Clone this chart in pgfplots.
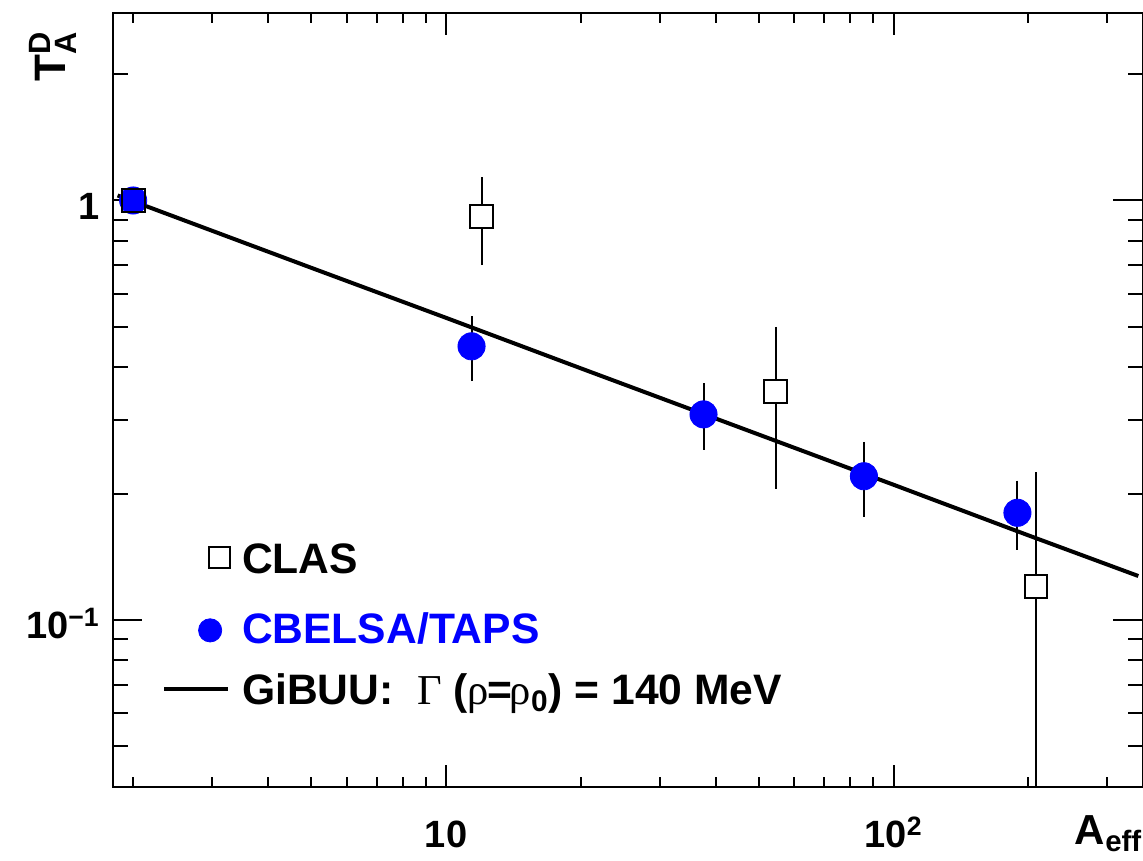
\documentclass[border=0pt]{standalone}
\usepackage{fontspec}
\setmainfont{Liberation Sans}
\newfontfamily\greekfont{Liberation Serif}
\usepackage{pgfplots}
\pgfplotsset{compat=1.18}
\definecolor{rootblue}{RGB}{0,0,255}
\pgfplotsset{
  legsquare/.style={legend image code/.code={\draw[##1] plot coordinates {(27.45pt,0.55pt)}; \path (0pt,-11.35pt);}},
  legcircle/.style={legend image code/.code={\draw[##1] plot coordinates {(23pt,-1.3pt)};}},
  legline/.style={legend image code/.code={\draw[##1] (0pt,0.35pt) -- (32.15pt,0.35pt);}},
}

\begin{document}
\begin{tikzpicture}
\begin{axis}[
  name=ax, at={(0,0)}, anchor=south west,
  scale only axis, width=515pt, height=386.85pt,
  xmode=log, ymode=log,
  xmin=1.8, xmax=360, ymin=0.04, ymax=2.8,
  axis line style={line width=1pt},
  every tick/.style={black, line width=1pt},
  major tick length=13pt, minor tick length=6.5pt,
  xtick style={/pgfplots/major tick length=11pt, /pgfplots/minor tick length=5pt},
  ytick style={/pgfplots/major tick length=15pt, /pgfplots/minor tick length=7.5pt},
  xtick={10,100}, xticklabels={10, 10\textsuperscript{2}},
  minor xtick={2,3,4,5,6,7,8,9,20,30,40,50,60,70,80,90,200,300},
  ytick={0.1,1}, yticklabels={10\textsuperscript{−1}, 1},
  minor ytick={0.04,0.05,0.06,0.07,0.08,0.09,0.2,0.3,0.4,0.5,0.6,0.7,0.8,0.9,2},
  tick label style={font=\fontsize{19}{22}\selectfont\bfseries},
  xticklabel style={anchor=base, yshift=-30.65pt},
  yticklabel style={anchor=base east, inner sep=0pt, xshift=-6.3pt, yshift=-9.5pt},
  ylabel={$\mathbf{T}^{\mathbf{D}}_{\mathbf{A}}$},
  ylabel style={at={(rel axis cs:-0.058,0.944)}, anchor=center, font=\fontsize{22}{26}\selectfont\bfseries},
  xlabel={\textbf{A}\textsubscript{\textbf{eff}}},
  xlabel style={at={(rel axis cs:1,0)}, anchor=north east, inner sep=0pt, yshift=-14.15pt, font=\fontsize{21}{25}\selectfont\bfseries},
  legend style={at={(rel axis cs:0.0476,0.3154)}, anchor=north west, draw=none, fill=none,
    inner sep=0pt, row sep=15.5pt, /tikz/column sep=5.8pt,
    font=\fontsize{21.3}{25}\selectfont\bfseries,
    nodes={inner sep=0pt, text height=15.3pt, text depth=0pt}},
  legend cell align=left,
  error bars/error bar style={line width=1pt, black},
  error bars/error mark options={line width=1pt, mark size=2pt, black},
]
\addlegendimage{only marks, mark=square*, mark size=5.25pt, mark options={fill=white, draw=black, line width=1pt}, legsquare}
\addlegendentry{CLAS}
\addlegendimage{only marks, mark=*, mark size=5.8pt, rootblue, legcircle}
\addlegendentry{\textcolor{rootblue}{CBELSA/TAPS}}
\addlegendimage{black, line width=2pt, legline}
\addlegendentry{GiBUU:\ \ {\mdseries\greekfont Γ} ({\mdseries\greekfont ρ}\kern-1pt=\kern-1pt{\mdseries\greekfont ρ}\textsubscript{0}) = 140 MeV}

% CLAS (open squares)
\addplot[forget plot, only marks, mark=square*, mark size=5.7pt,
  mark options={fill=white, draw=black, line width=1pt},
  error bars/.cd, y dir=both, y explicit]
  coordinates {
   (12.0,0.915) += (0,0.197) -= (0,0.198)
   (54.5,0.350) += (0,0.139) -= (0,0.140)
   (208,0.120) += (0,0.100) -= (0,0.100)
  };
% CBELSA/TAPS
\addplot[forget plot, only marks, mark=*, mark size=6.8pt, color=rootblue,
  mark options={fill=rootblue, draw=rootblue},
  error bars/.cd, y dir=both, y explicit]
  coordinates {
   (2,1.0) += (0,0) -= (0,0)
   (11.4,0.449) += (0,0.069) -= (0,0.070)
   (37.6,0.309) += (0,0.050) -= (0,0.049)
   (85.8,0.220) += (0,0.040) -= (0,0.040)
   (189,0.180) += (0,0.030) -= (0,0.030)
  };
% CLAS point at A=2 (hollow, on top)
\addplot[forget plot, only marks, mark=square, mark size=5.7pt,
  mark options={draw=black, line width=1pt}]
  coordinates {(2,1.0)};
% GiBUU
\addplot[forget plot, black, line width=2pt] coordinates {
  (1.846,1.028) (3,0.847) (5,0.691) (10,0.525) (20,0.398)
  (50,0.2765) (100,0.2099) (200,0.159) (352,0.1272)
};
\end{axis}
\pgfresetboundingbox
\path[use as bounding box] ([shift={(-56.35pt,-37.15pt)}]ax.south west) rectangle ([shift={(0.15pt,6.5pt)}]ax.north east);
\end{tikzpicture}
\end{document}
